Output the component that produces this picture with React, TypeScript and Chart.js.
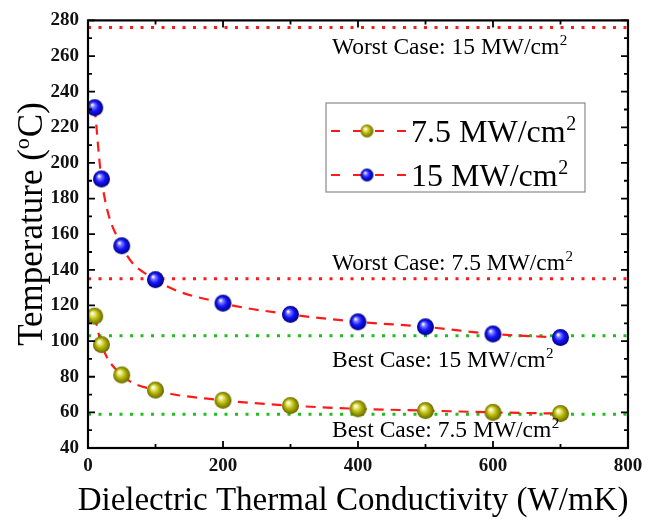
import React, { useEffect, useRef } from "react";
import { Chart, registerables } from "chart.js";
Chart.register(...registerables);

// ---- data ----
const conductivity = [10, 20, 50, 100, 200, 300, 400, 500, 600, 700];
const temp75 = [114, 98, 81, 72.5, 66.8, 63.8, 62, 61, 60, 59.3];
const temp15 = [231, 191, 153.5, 134.5, 121.3, 115, 110.8, 108, 104, 102];
const seriesLabels = ["7.5 MW/cm", "15 MW/cm"];
const refValues = [276, 135, 103, 59];
const refLabels = ["Worst Case: 15 MW/cm", "Worst Case: 7.5 MW/cm", "Best Case: 15 MW/cm", "Best Case: 7.5 MW/cm"];
const xTicks = [0, 200, 400, 600, 800];
const yTicks = [40, 60, 80, 100, 120, 140, 160, 180, 200, 220, 240, 260, 280];

const FONT = '"Liberation Serif", "Times New Roman", serif';
const RED = "#ff1a1a";
const GREEN = "#1fbf1f";
const refColors = [RED, RED, GREEN, GREEN];
const refTextDy = [26, -9, 31, 23];

function sphere(base: string, light: string, dark: string, r: number) {
  const c = document.createElement("canvas");
  const s = Math.ceil(r * 2 + 2);
  c.width = s;
  c.height = s;
  const g = c.getContext("2d")!;
  const cx = s / 2, cy = s / 2;
  const grad = g.createRadialGradient(cx - r * 0.3, cy - r * 0.35, r * 0.05, cx, cy, r);
  grad.addColorStop(0, "#ffffff");
  grad.addColorStop(0.22, light);
  grad.addColorStop(0.55, base);
  grad.addColorStop(1, dark);
  g.fillStyle = grad;
  g.beginPath();
  g.arc(cx, cy, r, 0, Math.PI * 2);
  g.fill();
  return c;
}

function supText(ctx: CanvasRenderingContext2D, main: string, sup: string, x: number, y: number, size: number, align: "left" | "center" = "left") {
  ctx.save();
  ctx.textBaseline = "alphabetic";
  ctx.textAlign = "left";
  ctx.fillStyle = "#000";
  const mainFont = `${size}px ${FONT}`;
  const supFont = `${Math.round(size * 0.62)}px ${FONT}`;
  ctx.font = mainFont;
  const w1 = ctx.measureText(main).width;
  ctx.font = supFont;
  const w2 = ctx.measureText(sup).width;
  const start = align === "center" ? x - (w1 + w2) / 2 : x;
  ctx.font = mainFont;
  ctx.fillText(main, start, y);
  ctx.font = supFont;
  ctx.fillText(sup, start + w1 + 0.5, y - size * 0.38);
  ctx.restore();
}

export default function App() {
  const ref = useRef<HTMLCanvasElement>(null);
  useEffect(() => {
    const canvas = ref.current!;
    const blueBall = sphere("#1414ff", "#7a7aff", "#00007a", 8.5);
    const yelBall = sphere("#b3b300", "#e8e880", "#666600", 8.5);
    const blueBallS = sphere("#1414ff", "#7a7aff", "#00007a", 6.5);
    const yelBallS = sphere("#b3b300", "#e8e880", "#666600", 6.5);

    const decor = {
      id: "decor",
      afterDraw(chart: any) {
        const ctx: CanvasRenderingContext2D = chart.ctx;
        const { left, right, top, bottom } = chart.chartArea;
        const xs = chart.scales.x, ys = chart.scales.y;
        ctx.save();
        ctx.strokeStyle = "#000";
        ctx.lineWidth = 2.2;
        ctx.strokeRect(left, top, right - left, bottom - top);
        ctx.lineWidth = 1.8;
        ctx.beginPath();
        for (let v = 0; v <= 800; v += 100) {
          const p = xs.getPixelForValue(v);
          const L = v % 200 === 0 ? 7 : 4;
          ctx.moveTo(p, bottom); ctx.lineTo(p, bottom - L);
          ctx.moveTo(p, top); ctx.lineTo(p, top + L);
        }
        for (let v = 40; v <= 280; v += 10) {
          const p = ys.getPixelForValue(v);
          const L = v % 20 === 0 ? 7 : 4;
          ctx.moveTo(left, p); ctx.lineTo(left + L, p);
          ctx.moveTo(right, p); ctx.lineTo(right - L, p);
        }
        ctx.stroke();
        refLabels.forEach((t, i) => {
          supText(ctx, t, "2", left + 244, ys.getPixelForValue(refValues[i]) + refTextDy[i], 23.5);
        });
        const bx = 326, by = 103, bw = 259, bh = 89;
        ctx.strokeStyle = "#8a8a8a";
        ctx.lineWidth = 1.2;
        ctx.strokeRect(bx, by, bw, bh);
        const rows = [
          { y: by + 28, img: yelBallS, label: seriesLabels[0] },
          { y: by + 72, img: blueBallS, label: seriesLabels[1] },
        ];
        rows.forEach((r) => {
          ctx.strokeStyle = RED;
          ctx.lineWidth = 2.2;
          ctx.setLineDash([9, 13]);
          ctx.beginPath();
          ctx.moveTo(bx + 5, r.y);
          ctx.lineTo(bx + 80, r.y);
          ctx.stroke();
          ctx.setLineDash([]);
          ctx.drawImage(r.img, bx + 41 - r.img.width / 2, r.y - r.img.height / 2);
          supText(ctx, r.label, "2", bx + 85, r.y + 11, 32);
        });
        supText(ctx, "Dielectric Thermal Conductivity (W/mK)", "", (left + right) / 2 - 5, 510, 33, "center");
        ctx.save();
        ctx.translate(42, 224);
        ctx.rotate(-Math.PI / 2);
        const size = 35;
        ctx.fillStyle = "#000";
        ctx.textBaseline = "alphabetic";
        const a = "Temperature (", b = "o", c = "C)";
        ctx.font = `${size}px ${FONT}`;
        const wa = ctx.measureText(a).width, wc = ctx.measureText(c).width;
        ctx.font = `${Math.round(size * 0.62)}px ${FONT}`;
        const wb = ctx.measureText(b).width;
        const x0 = -(wa + wb + wc + 1) / 2;
        ctx.font = `${size}px ${FONT}`;
        ctx.fillText(a, x0, 0);
        ctx.font = `${Math.round(size * 0.62)}px ${FONT}`;
        ctx.fillText(b, x0 + wa, -size * 0.38);
        ctx.font = `${size}px ${FONT}`;
        ctx.fillText(c, x0 + wa + wb + 1, 0);
        ctx.restore();
        ctx.restore();
      },
    };

    const refDatasets = refValues.map((v, i) => ({
      label: refLabels[i],
      data: [{ x: 0, y: v }, { x: 800, y: v }],
      borderColor: refColors[i],
      borderWidth: 3,
      borderDash: [3, 7.5],
      pointRadius: 0,
      fill: false,
      order: 5,
    }));

    const chart = new Chart(canvas, {
      type: "line",
      data: {
        datasets: [
          ...refDatasets,
          {
            label: seriesLabels[0],
            data: conductivity.map((x, i) => ({ x, y: temp75[i] })),
            borderColor: RED,
            borderWidth: 2.2,
            borderDash: [10, 7],
            cubicInterpolationMode: "monotone",
            pointStyle: yelBall,
            pointRadius: 8,
            order: 1,
          },
          {
            label: seriesLabels[1],
            data: conductivity.map((x, i) => ({ x, y: temp15[i] })),
            borderColor: RED,
            borderWidth: 2.2,
            borderDash: [10, 7],
            cubicInterpolationMode: "monotone",
            pointStyle: blueBall,
            pointRadius: 8,
            order: 0,
          },
        ] as any,
      },
      options: {
        animation: false,
        responsive: false,
        layout: { padding: { top: 14, right: 22, left: 0, bottom: 0 } },
        plugins: { legend: { display: false }, tooltip: { enabled: false } },
        scales: {
          x: {
            type: "linear",
            min: 0,
            max: 800,
            grid: { display: false, drawTicks: false },
            border: { display: false },
            afterFit: (s: any) => { s.height = 75; },
            afterBuildTicks: (s: any) => { s.ticks = xTicks.map((v) => ({ value: v })); },
            ticks: { font: { family: FONT, size: 19, weight: "bold" }, color: "#111", padding: 7, maxRotation: 0 },
          },
          y: {
            type: "linear",
            min: 40,
            max: 280,
            grid: { display: false, drawTicks: false },
            border: { display: false },
            afterFit: (s: any) => { s.width = 88; },
            afterBuildTicks: (s: any) => { s.ticks = yTicks.map((v) => ({ value: v })); },
            ticks: { font: { family: FONT, size: 19, weight: "bold" }, color: "#111", padding: 9 },
          },
        },
      } as any,
      plugins: [decor],
    });
    return () => chart.destroy();
  }, []);

  return (
    <div style={{ position: "fixed", left: 0, top: 0, width: 650, height: 523, background: "#fff" }}>
      <canvas ref={ref} width={650} height={523} style={{ width: 650, height: 523, display: "block" }} />
    </div>
  );
}
